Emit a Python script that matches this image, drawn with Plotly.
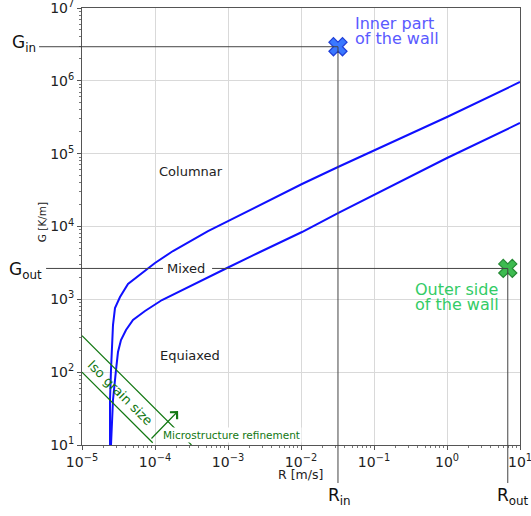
import numpy as np
import plotly.graph_objects as go

# ---------------- data ----------------
# upper transition curve (Columnar / Mixed)
R_upper = [2.419e-5, 2.419e-5, 2.496e-5, 2.576e-5, 2.658e-5, 2.831e-5, 3.315e-5, 4.267e-5,
           6.228e-5, 1.0e-4, 1.764e-4, 3.016e-4, 5.322e-4, 1.0e-3, 2.744e-3, 1.032e-2,
           3.212e-2, 0.2271, 1.0, 10.0]
G_upper = [10, 41.5, 107, 236, 444, 760, 1076, 1623,
           2158, 3153, 4608, 6320, 8670, 11890, 19730, 38320,
           65580, 158900, 318700, 963700]
# lower transition curve (Mixed / Equiaxed)
R_lower = [2.496e-5, 2.658e-5, 2.922e-5, 3.112e-5, 3.421e-5, 4.007e-5, 4.995e-5, 7.295e-5,
           1.247e-4, 3.016e-4, 9.69e-4, 2.744e-3, 1.032e-2, 3.212e-2, 0.2271, 1.0, 10.0]
G_lower = [10, 41.5, 107, 189, 276.5, 379, 520, 691.5,
           979, 1523, 2692, 4464, 8401, 15315, 40820, 87170, 263600]

# iso grain size lines
iso1_R = [1e-5, 3.16e-4]
iso1_G = [316, 10]
iso2_R = [1e-5, 9.3e-5]
iso2_G = [100, 10.75]
# refinement arrow (tail -> head)
arrow_R = [8.55e-5, 2.07e-4]
arrow_G = [11.7, 29.3]

# operating points
R_in, G_in = 0.0321, 2.94e6
R_out, G_out = 6.8, 2655

x_ticks = [1e-5, 1e-4, 1e-3, 1e-2, 1e-1, 1e0, 1e1]
x_ticktext = ["10<sup>−5</sup>", "10<sup>−4</sup>", "10<sup>−3</sup>", "10<sup>−2</sup>",
              "10<sup>−1</sup>", "10<sup>0</sup>", "10<sup>1</sup>"]
y_ticks = [1e1, 1e2, 1e3, 1e4, 1e5, 1e6, 1e7]
y_ticktext = ["10<sup>1</sup>", "10<sup>2</sup>", "10<sup>3</sup>", "10<sup>4</sup>",
              "10<sup>5</sup>", "10<sup>6</sup>", "10<sup>7</sup>"]

region_labels = ["Columnar", "Mixed", "Equiaxed"]
region_R = [3.16e-4, 2.7e-4, 3.06e-4]
region_G = [57800, G_out, 172]

FONT = "DejaVu Sans"
XR = [-5, 1]
YR = [1, 7]


def px(R):
    return (np.log10(R) - XR[0]) / (XR[1] - XR[0])


def py(G):
    return (np.log10(G) - YR[0]) / (YR[1] - YR[0])


minor_x = [m * 10.0 ** k for k in range(-5, 1) for m in range(2, 10)]
minor_y = [m * 10.0 ** k for k in range(1, 7) for m in range(2, 10)]

fig = go.Figure()

fig.add_trace(go.Scatter(x=R_upper, y=G_upper, mode="lines",
                         line=dict(color="#1010ff", width=2), showlegend=False))
fig.add_trace(go.Scatter(x=R_lower, y=G_lower, mode="lines",
                         line=dict(color="#1010ff", width=2), showlegend=False))
fig.add_trace(go.Scatter(x=iso1_R, y=iso1_G, mode="lines",
                         line=dict(color="#117711", width=1.2), showlegend=False))
fig.add_trace(go.Scatter(x=iso2_R, y=iso2_G, mode="lines",
                         line=dict(color="#117711", width=1.2), showlegend=False))

# reference lines (paper coordinates derived from the values)
line_col = "#444444"
mixed_gap = [0.185, 0.297]  # gap left in the G_out line around the "Mixed" label
shapes = [
    dict(type="line", xref="paper", yref="paper", x0=-0.098, x1=px(R_in), y0=py(G_in), y1=py(G_in),
         line=dict(color=line_col, width=1)),
    dict(type="line", xref="paper", yref="paper", x0=px(R_in), x1=px(R_in), y0=-0.087, y1=py(G_in),
         line=dict(color=line_col, width=1)),
    dict(type="line", xref="paper", yref="paper", x0=-0.082, x1=mixed_gap[0], y0=py(G_out), y1=py(G_out),
         line=dict(color=line_col, width=1)),
    dict(type="line", xref="paper", yref="paper", x0=mixed_gap[1], x1=px(R_out), y0=py(G_out), y1=py(G_out),
         line=dict(color=line_col, width=1)),
    dict(type="line", xref="paper", yref="paper", x0=px(R_out), x1=px(R_out), y0=-0.087, y1=py(G_out),
         line=dict(color=line_col, width=1)),
]

fig.add_trace(go.Scatter(x=[R_in], y=[G_in], mode="markers",
                         marker=dict(symbol="x", size=16, color="#3a78ff",
                                     line=dict(color="#1f3ed8", width=1.2)),
                         showlegend=False, cliponaxis=False))
fig.add_trace(go.Scatter(x=[R_out], y=[G_out], mode="markers",
                         marker=dict(symbol="x", size=16, color="#3dbb50",
                                     line=dict(color="#268a35", width=1.2)),
                         showlegend=False, cliponaxis=False))

ann = []
for lab, r, g in zip(region_labels, region_R, region_G):
    ann.append(dict(x=np.log10(r), y=np.log10(g), xref="x", yref="y", text=lab, showarrow=False,
                    xanchor="center", yanchor="middle",
                    font=dict(family=FONT, size=13, color="#222222")))

# Inner / outer texts
inner_col = "#5a5aff"
outer_col = "#33cc66"
inner_lines = ["Inner part", "of the wall"]
inner_y = [6.79, 6.58]
for t, yy in zip(inner_lines, inner_y):
    ann.append(dict(x=np.log10(0.0515), y=yy, xref="x", yref="y", text=t, showarrow=False,
                    xanchor="left", yanchor="middle", font=dict(family=FONT, size=16, color=inner_col)))
outer_lines = ["Outer side", "of the wall"]
outer_y = [3.14, 2.93]
for t, yy in zip(outer_lines, outer_y):
    ann.append(dict(x=np.log10(0.342), y=yy, xref="x", yref="y", text=t, showarrow=False,
                    xanchor="left", yanchor="middle", font=dict(family=FONT, size=16, color=outer_col)))

# green annotations
ann.append(dict(x=-4.479, y=1.727, xref="x", yref="y", text="Iso grain size", showarrow=False,
                xanchor="center", yanchor="middle",
                textangle=45, font=dict(family=FONT, size=13, color="#117711")))
ann.append(dict(x=-3.915, y=1.137, xref="x", yref="y", text="Microstructure refinement", showarrow=False,
                xanchor="left", yanchor="middle", bgcolor="white", borderpad=1,
                font=dict(family=FONT, size=10.5, color="#117711")))
ann.append(dict(x=np.log10(arrow_R[1]), y=np.log10(arrow_G[1]), ax=np.log10(arrow_R[0]), ay=np.log10(arrow_G[0]),
                xref="x", yref="y", axref="x", ayref="y", text="", showarrow=True,
                arrowhead=4, arrowsize=1.6, arrowwidth=1.2, arrowcolor="#117711"))

# axis titles
ann += [
    dict(x=0.498, y=-0.067, xref="paper", yref="paper", text="R [m/s]", showarrow=False,
         xanchor="center", yanchor="middle",
         font=dict(family=FONT, size=12.5, color="#222222")),
    dict(x=-0.0913, y=0.51, xref="paper", yref="paper", text="G [K/m]", showarrow=False, textangle=-90,
         xanchor="center", yanchor="middle",
         font=dict(family=FONT, size=10.5, color="#222222")),
]

# outside labels
big = dict(family=FONT, size=17, color="#111111")
ann += [
    dict(x=-0.133, y=0.918, xref="paper", yref="paper", text="G<sub>in</sub>", showarrow=False,
         xanchor="center", yanchor="middle", font=big),
    dict(x=-0.128, y=0.400, xref="paper", yref="paper", text="G<sub>out</sub>", showarrow=False,
         xanchor="center", yanchor="middle", font=big),
    dict(x=0.589, y=-0.117, xref="paper", yref="paper", text="R<sub>in</sub>", showarrow=False,
         xanchor="center", yanchor="middle", font=big),
    dict(x=0.985, y=-0.117, xref="paper", yref="paper", text="R<sub>out</sub>", showarrow=False,
         xanchor="center", yanchor="middle", font=big),
]

axis_common = dict(
    type="log", showline=True, mirror=True, linecolor="#555555", linewidth=1,
    showgrid=True, gridcolor="#d9d9d9", gridwidth=1, ticks="outside", ticklen=4,
    tickcolor="#555555", tickfont=dict(family=FONT, size=14, color="#222222"), zeroline=False,
    tickmode="array", ticklabeloverflow="allow", automargin=False,
)

fig.update_layout(
    width=531, height=516,
    margin=dict(l=82, r=11, t=8, b=71, autoexpand=False),
    paper_bgcolor="white", plot_bgcolor="white",
    font=dict(family=FONT),
    shapes=shapes, annotations=ann,
    xaxis=dict(range=XR, tickvals=x_ticks, ticktext=x_ticktext,
               minor=dict(tickmode="array", tickvals=minor_x, ticks="outside", ticklen=2,
                          tickcolor="#777777", showgrid=False),
               **axis_common),
    yaxis=dict(range=YR, tickvals=y_ticks, ticktext=y_ticktext,
               minor=dict(tickmode="array", tickvals=minor_y, ticks="outside", ticklen=2,
                          tickcolor="#777777", showgrid=False),
               **axis_common),
)

fig.write_html("out.html")
